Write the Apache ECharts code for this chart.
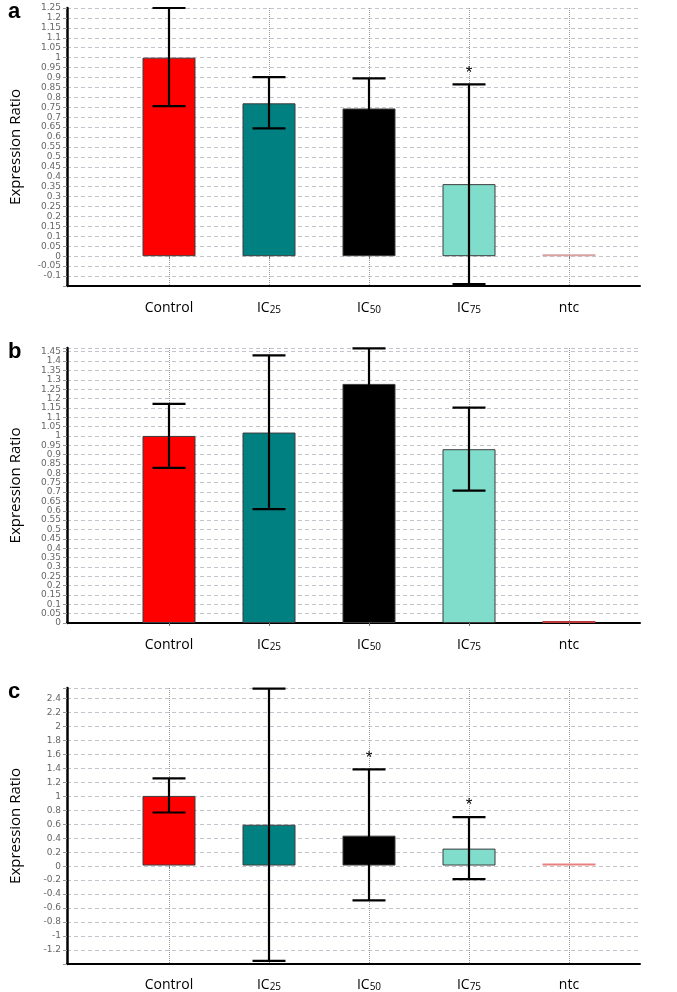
<!DOCTYPE html>
<html>
<head>
<meta charset="utf-8">
<script src="https://cdn.jsdelivr.net/npm/echarts@6/dist/echarts.min.js"></script>
<style>
  html, body { margin: 0; padding: 0; background: #fff; }
  #chart { width: 677px; height: 992px; }
</style>
</head>
<body>
<div id="chart"></div>
<script>
// 类别
const categories = ['Control', 'IC25', 'IC50', 'IC75', 'ntc'];

// panel a
const meanA = [1.0, 0.77, 0.744, 0.363, 0];
const lowA = [0.756, 0.644, 0.62, -0.14, 0];
const highA = [1.25, 0.902, 0.896, 0.865, 0];
const starA = [0, 0, 0, 1, 0];

// panel b
const meanB = [1.0, 1.018, 1.278, 0.929, 0];
const lowB = [0.829, 0.609, 1.1, 0.708, 0];
const highB = [1.171, 1.431, 1.468, 1.151, 0];
const starB = [0, 0, 0, 0, 0];

// panel c
const meanC = [1.0, 0.586, 0.429, 0.243, 0];
const lowC = [0.762, -1.37, -0.5, -0.196, 0];
const highC = [1.253, 2.54, 1.381, 0.696, 0];
const starC = [0, 0, 1, 1, 0];

// y axis ranges
const rangeA = { min: -0.15, max: 1.25, interval: 0.05 };
const rangeB = { min: 0, max: 1.47, interval: 0.05 };
const rangeC = { min: -1.4, max: 2.55, interval: 0.2 };

const barColors = ['#ff0000', '#008080', '#000000', '#80dccb'];
const FONT = '"Open Sans", "Noto Sans", sans-serif';

const panels = [
  { letter: 'a', mean: meanA, low: lowA, high: highA, star: starA, range: rangeA, top: 8, height: 278, ntcColor: '#d9a3a3' },
  { letter: 'b', mean: meanB, low: lowB, high: highB, star: starB, range: rangeB, top: 348, height: 275, ntcColor: '#b83a3a' },
  { letter: 'c', mean: meanC, low: lowC, high: highC, star: starC, range: rangeC, top: 688, height: 276, ntcColor: '#e88080' }
];

const grid = [], xAxis = [], yAxis = [], series = [], title = [];

panels.forEach((p, k) => {
  const a = 2 * k, b = 2 * k + 1;
  const r = p.range;

  // grid A: y axis + x axis line，grid B: categories & bars
  grid.push({ left: 63, right: 37, top: p.top, height: p.height });
  grid.push({ left: 169, right: 108, top: p.top, height: p.height });

  title.push({
    text: p.letter,
    left: 3,
    top: p.top - 12,
    textStyle: { fontSize: 22, fontWeight: 'bold', fontFamily: '"Liberation Sans", Arial', color: '#000' }
  });

  xAxis.push({
    type: 'value', gridIndex: a, min: 0, max: 1,
    axisLine: { show: true, onZero: false, lineStyle: { color: '#000', width: 2 } },
    axisTick: { show: false }, axisLabel: { show: false }, splitLine: { show: false }
  });
  xAxis.push({
    type: 'category', gridIndex: b, data: categories, boundaryGap: false,
    axisLine: { show: false },
    axisTick: { show: true, length: 3, lineStyle: { color: '#777' } },
    splitLine: { show: true, lineStyle: { color: '#999', type: 'dotted', width: 1 } },
    axisLabel: {
      interval: 0,
      margin: 11,
      formatter: v => v.startsWith('IC') ? `{m|IC}{s|${v.slice(2)}}` : `{m|${v}}`,
      rich: {
        m: { fontSize: 14, fontFamily: FONT, color: '#000', lineHeight: 18, verticalAlign: 'bottom' },
        s: { fontSize: 10, fontFamily: FONT, color: '#000', lineHeight: 11, verticalAlign: 'bottom' }
      }
    }
  });

  yAxis.push({
    type: 'value', gridIndex: a, min: r.min, max: r.max, interval: r.interval,
    name: 'Expression Ratio', nameLocation: 'middle', nameGap: 44,
    nameTextStyle: { fontSize: 15, fontFamily: FONT, color: '#000' },
    axisLine: { show: true, lineStyle: { color: '#000', width: 2.5 } },
    axisTick: { show: true, length: 4, lineStyle: { color: '#999' } },
    axisLabel: {
      fontSize: 9, fontFamily: '"DejaVu Sans", sans-serif', color: '#666', margin: 6,
      formatter: v => {
        const q = v / r.interval;
        if (Math.abs(v - r.min) < 1e-9 && r.min !== 0) return '';
        if (Math.abs(q - Math.round(q)) > 1e-6) return '';
        return String(+v.toFixed(2));
      }
    },
    splitLine: { show: true, lineStyle: { color: '#c4c4cc', type: [4, 3], width: 1 } }
  });
  yAxis.push({ type: 'value', gridIndex: b, min: r.min, max: r.max, interval: r.interval, show: false });

  series.push({
    type: 'bar',
    xAxisIndex: b, yAxisIndex: b,
    barWidth: 53,
    barMinHeight: 2,
    clip: false,
    silent: true,
    data: p.mean.map((v, i) => ({
      value: v,
      itemStyle: i < barColors.length
        ? { color: barColors[i], borderColor: '#3c3c3c', borderWidth: 1 }
        : { color: p.ntcColor, borderWidth: 0 }
    }))
  });

  // 误差线
  series.push({
    type: 'custom',
    xAxisIndex: b, yAxisIndex: b,
    silent: true,
    z: 5,
    data: p.mean.map((v, i) => [i, p.low[i], p.high[i], p.star[i]]).filter(d => d[1] !== d[2]),
    renderItem(params, api) {
      const idx = api.value(0);
      const lo = api.coord([idx, api.value(1)]);
      const hi = api.coord([idx, api.value(2)]);
      const half = 16.5;
      const style = { stroke: '#000', lineWidth: 2.2 };
      const children = [
        { type: 'line', shape: { x1: lo[0], y1: lo[1], x2: hi[0], y2: hi[1] }, style },
        { type: 'line', shape: { x1: hi[0] - half, y1: hi[1], x2: hi[0] + half, y2: hi[1] }, style },
        { type: 'line', shape: { x1: lo[0] - half, y1: lo[1], x2: lo[0] + half, y2: lo[1] }, style }
      ];
      if (api.value(3)) {
        children.push({
          type: 'text',
          style: {
            text: '*', x: hi[0], y: hi[1] - 3,
            align: 'center', verticalAlign: 'bottom',
            fontSize: 17, fontFamily: '"Liberation Sans", Arial', fill: '#000'
          }
        });
      }
      return { type: 'group', children };
    }
  });
});

const chart = echarts.init(document.getElementById('chart'));
chart.setOption({
  backgroundColor: '#fff',
  animation: false,
  title,
  grid,
  xAxis,
  yAxis,
  series
});
</script>
</body>
</html>
